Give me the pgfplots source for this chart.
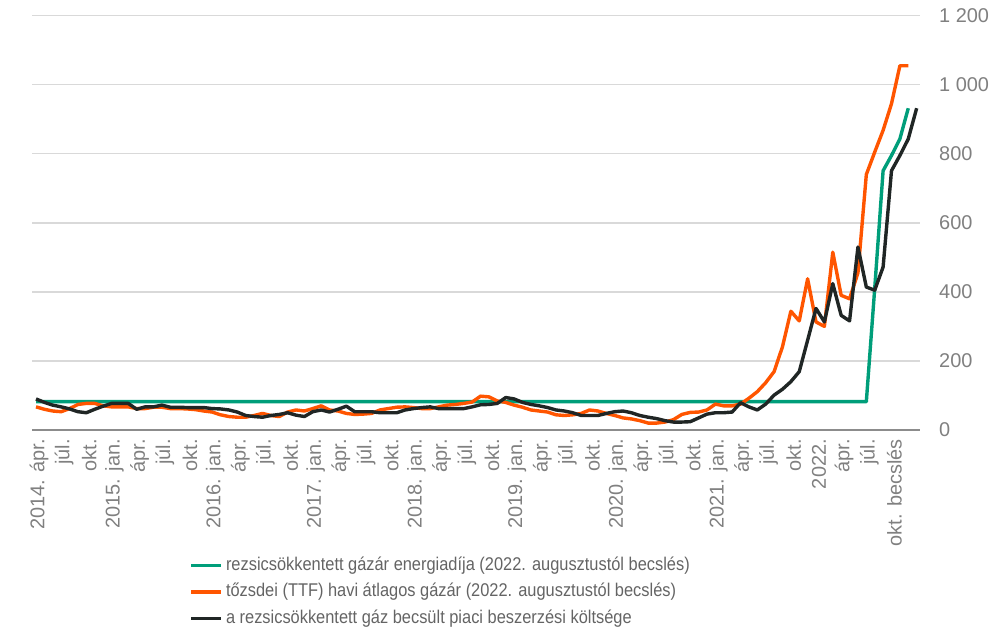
\documentclass[border=0pt]{standalone}
\usepackage{pgfplots}
\pgfplotsset{compat=1.18}
\usepackage{pgfplotstable}
\usepackage{fontspec}
\setmainfont{Liberation Sans}
\newfontfamily\legfont{Liberation Sans}[FakeStretch=0.89]

\definecolor{rezsi}{RGB}{0,158,122}
\definecolor{ttf}{RGB}{255,85,0}
\definecolor{piaci}{RGB}{32,38,37}
\definecolor{ticktext}{RGB}{128,128,128}
\definecolor{legtext}{RGB}{100,100,100}
\definecolor{gridc}{RGB}{217,217,217}
\definecolor{axisc}{RGB}{140,140,140}

% havi adatok, 0 = 2014. apr.
\pgfplotstableread{
i green orange black
0 82 67 90
1 82 60 80
2 82 55 72
3 82 53 67
4 82 62 61
5 82 74 53
6 82 77 50
7 82 77 60
8 82 70 69
9 82 67 77
10 82 67 77
11 82 67 77
12 82 62 60
13 82 62 67
14 82 66 67
15 82 66 72
16 82 62 66
17 82 62 66
18 82 61 65
19 82 59 65
20 82 55 65
21 82 52 62
22 82 44 61
23 82 39 58
24 82 37 52
25 82 37 42
26 82 42 39
27 82 48 37
28 82 42 42
29 82 39 45
30 82 52 50
31 82 58 43
32 82 55 39
33 82 62 53
34 82 70 58
35 82 58 52
36 82 55 60
37 82 48 69
38 82 45 53
39 82 46 53
40 82 48 53
41 82 58 50
42 82 62 50
43 82 66 50
44 82 67 58
45 82 65 62
46 82 62 65
47 82 62 67
48 82 67 62
49 82 72 62
50 82 74 62
51 82 77 62
52 82 81 67
53 82 98 73
54 82 96 74
55 82 84 77
56 82 80 94
57 82 72 90
58 82 66 80
59 82 58 74
60 82 55 70
61 82 52 65
62 82 44 58
63 82 42 55
64 82 44 50
65 82 48 42
66 82 58 42
67 82 55 42
68 82 48 48
69 82 42 53
70 82 35 55
71 82 32 50
72 82 27 42
73 82 20 37
74 82 20 33
75 82 23 27
76 82 30 23
77 82 45 23
78 82 51 24
79 82 52 35
80 82 58 46
81 82 75 50
82 82 70 50
83 82 70 52
84 82 75 79
85 82 92 67
86 82 111 58
87 82 137 75
88 82 169 101
89 82 241 118
90 82 344 140
91 82 316 169
92 82 438 260
93 82 313 352
94 82 300 313
95 82 515 424
96 82 390 332
97 82 380 316
98 82 455 530
99 82 740 414
100 410 805 405
101 751 868 472
102 795 945 751
103 843 1055 795
104 932 1055 843
105 nan nan 932
}\gazdata

\begin{document}
\begin{tikzpicture}
\useasboundingbox (0,0) rectangle (1005bp,629bp);
\begin{axis}[
    at={(32bp,199bp)}, anchor=south west,
    scale only axis,
    width=888bp, height=414.3bp,
    xmin=-0.48, xmax=105.4,
    ymin=0, ymax=1200,
    axis x line*=bottom,
    axis y line*=right,
    x axis line style={draw=axisc, line width=1.3bp},
    y axis line style={draw=none},
    major tick length=0pt,
    xtick={0,3,...,102},
    xticklabels={2014. ápr.,júl.,okt.,2015. jan.,ápr.,júl.,okt.,2016. jan.,ápr.,júl.,okt.,2017. jan.,ápr.,júl.,okt.,2018. jan.,ápr.,júl.,okt.,2019. jan.,ápr.,júl.,okt.,2020. jan.,ápr.,júl.,okt.,2021. jan.,ápr.,júl.,okt.,2022.,ápr.,júl.,okt. becslés},
    x tick label style={rotate=90, anchor=east, inner sep=0pt, xshift=-9bp, yshift=-3bp,
        font=\fontsize{20}{24}\selectfont, text=ticktext},
    ytick={0,200,...,1200},
    yticklabels={0,200,400,600,800,1 000,1 200},
    yticklabel pos=right,
    y tick label style={anchor=west, inner sep=0pt, xshift=19bp,
        font=\fontsize{20}{24}\selectfont, text=ticktext},
    ymajorgrids,
    grid style={draw=gridc, line width=1.4bp},
    clip=false,
    every axis plot/.append style={line width=3.4bp, line join=round},
    legend cell align=left,
    legend style={at={(0.1775,-0.306)}, anchor=north west, draw=none, fill=none,
        inner sep=0pt, outer sep=0pt,
        font=\legfont\fontsize{18.5}{22}\selectfont, text=legtext,
        row sep=9bp, column sep=3bp,
        nodes={inner sep=0pt, text height=13.5bp, text depth=4bp}},
    legend image code/.code={\draw[line width=3.4bp] (0bp,0bp) -- (30bp,0bp);},
]
\addplot[rezsi] table[x=i, y=green] {\gazdata};
\addlegendentry{rezsicsökkentett gázár energiadíja (2022. augusztustól becslés)}
\addplot[ttf] table[x=i, y=orange] {\gazdata};
\addlegendentry{tőzsdei (TTF) havi átlagos gázár (2022. augusztustól becslés)}
\addplot[piaci] table[x=i, y=black] {\gazdata};
\addlegendentry{a rezsicsökkentett gáz becsült piaci beszerzési költsége}
\end{axis}
\end{tikzpicture}
\end{document}
